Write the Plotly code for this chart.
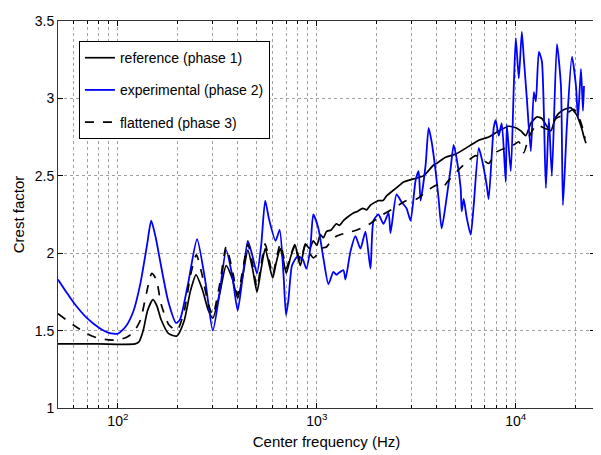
import plotly.graph_objects as go

# ---------------- data ----------------
ref_freq = [50, 80, 122, 128, 134, 141, 150, 157, 165, 180, 198, 215, 232, 247, 265, 285, 300,
            325, 350, 375, 400, 425, 450, 475, 500, 525, 550, 575, 600, 625, 655, 680, 702,
            740, 779, 800, 826, 850, 875, 920, 960, 1000, 1041, 1080, 1117, 1180, 1254, 1300, 1360,
            1450, 1527, 1600, 1700, 1780, 1860, 2040, 2150, 2240, 2500, 2729, 3063, 3440, 3862, 4000, 4437,
            4986, 5798, 6511, 7305, 8207, 9220, 10000, 10595, 11230, 11900, 12760, 13520,
            14320, 15000, 15900, 17050, 18800, 20060, 20760, 21500, 22010, 22520]
ref_val = [1.414, 1.414, 1.414, 1.43, 1.50, 1.63, 1.70, 1.66, 1.57, 1.48, 1.465, 1.56, 1.76, 1.86,
           1.77, 1.63, 1.58, 1.74, 1.92, 1.84, 1.71, 1.86, 2.02, 1.90, 1.75, 1.90, 2.03, 1.93,
           1.84, 1.94, 2.03, 1.95, 1.87, 1.98, 2.05, 1.98, 1.92, 1.99, 2.06, 2.03, 2.08, 2.05,
           2.12, 2.10, 2.14, 2.15, 2.19, 2.18, 2.21, 2.24, 2.26, 2.27, 2.29, 2.28, 2.31, 2.34, 2.34, 2.37, 2.42,
           2.46, 2.48, 2.50, 2.57, 2.58, 2.62, 2.64, 2.69, 2.73, 2.75, 2.79, 2.82, 2.81, 2.79,
           2.76, 2.84, 2.88, 2.87, 2.82, 2.79, 2.88, 2.92, 2.94, 2.90, 2.86, 2.80, 2.75, 2.71]

exp_freq = [50, 55, 60, 70, 80, 90, 100, 110, 120, 130, 140, 147, 155, 163, 179, 196, 205, 225,
            250, 275, 300, 325, 350, 375, 400, 425, 450, 475, 500, 525, 550, 575, 620, 650, 680,
            700, 720, 750, 800, 850, 885, 927, 960, 1018, 1078, 1143, 1211, 1254, 1283, 1360,
            1392, 1475, 1563, 1656, 1755, 1860, 1926, 2040, 2163, 2293, 2346, 2515, 2666, 2824,
            2958, 3135, 3246, 3322, 3521, 3646, 3775, 3953, 4093, 4238, 4437, 4705, 4872, 5044,
            5284, 5345, 5470, 5665, 5933, 6143, 6511, 6742, 7139, 7305, 7742, 7925, 8207, 8496,
            8904, 9010, 9436, 9770, 10000, 10353, 10720, 10970, 11360, 11900, 12320, 12610,
            13060, 13520, 14160, 14660, 15180, 16090, 16860, 17250, 18070, 19150, 20060, 20530,
            21250, 21760, 22010]
exp_val = [1.83, 1.75, 1.68, 1.58, 1.52, 1.485, 1.48, 1.53, 1.63, 1.81, 2.05, 2.21, 2.10, 1.95,
           1.69, 1.55, 1.57, 1.80, 2.09, 1.82, 1.50, 1.75, 2.02, 1.86, 1.63, 1.86, 2.08, 1.98,
           1.87, 2.05, 2.34, 2.22, 2.08, 2.15, 1.86, 1.60, 1.70, 1.92, 1.98, 1.96, 1.90, 2.03,
           2.25, 2.16, 1.97, 1.80, 1.88, 1.86, 1.87, 1.89, 1.83, 2.01, 2.11, 2.03, 2.14, 1.90,
           2.21, 2.25, 2.19, 2.26, 2.13, 2.38, 2.33, 2.29, 2.21, 2.47, 2.53, 2.34, 2.57, 2.81,
           2.72, 2.53, 2.35, 2.16, 2.31, 2.55, 2.70, 2.61, 2.42, 2.27, 2.35, 2.23, 2.12, 2.31,
           2.68, 2.61, 2.44, 2.35, 2.81, 2.86, 2.76, 2.84, 2.46, 2.83, 2.53, 3.08, 3.39, 3.13,
           3.43, 3.26, 3.00, 2.66, 3.04, 2.98, 3.30, 3.24, 2.42, 2.87, 2.50, 3.35, 3.08, 2.31,
           2.83, 3.27, 3.08, 2.87, 3.19, 2.92, 3.08]

flat_freq = [50, 55, 60, 70, 80, 90, 100, 110, 120, 130, 138, 148, 156, 165, 180, 198, 215, 232,
             248, 265, 285, 300, 325, 350, 375, 400, 425, 450, 475, 500, 525, 550, 575, 600, 625,
             655, 680, 702, 740, 779, 800, 826, 875, 920, 960, 1000, 1041, 1117, 1180, 1254, 1392,
             1500, 1656, 1850, 2089, 2429, 2824, 3171, 3646, 3999, 4238, 4597, 5162, 5798, 6288,
             6742, 7305, 7925, 8900, 9770, 10353, 10970, 11630, 12760, 13800, 14660, 15900,
             17860, 19600, 20760, 21760, 22270]
flat_val = [1.61, 1.57, 1.535, 1.48, 1.45, 1.44, 1.44, 1.455, 1.49, 1.57, 1.72, 1.87, 1.83, 1.67,
            1.54, 1.50, 1.62, 1.86, 1.99, 1.86, 1.67, 1.60, 1.80, 2.04, 1.90, 1.73, 1.90, 2.06,
            1.93, 1.78, 1.93, 2.06, 1.96, 1.86, 1.96, 2.06, 1.98, 1.90, 1.99, 2.06, 2.00, 1.95,
            2.05, 2.00, 1.97, 1.99, 2.03, 2.04, 2.08, 2.11, 2.13, 2.14, 2.16, 2.19, 2.24, 2.29,
            2.34, 2.35, 2.41, 2.44, 2.42, 2.47, 2.54, 2.60, 2.63, 2.61, 2.58, 2.65, 2.68, 2.70,
            2.72, 2.65, 2.75, 2.83, 2.81, 2.80, 2.87, 2.90, 2.93, 2.88, 2.80, 2.74]

names = ["reference (phase 1)", "experimental (phase 2)", "flattened (phase 3)"]

x_tickvals = [100, 1000, 10000]
x_ticktext = ["10<sup>2</sup>", "10<sup>3</sup>", "10<sup>4</sup>"]
x_minorvals = [60, 70, 80, 90, 200, 300, 400, 500, 600, 700, 800, 900,
               2000, 3000, 4000, 5000, 6000, 7000, 8000, 9000, 20000]
y_tickvals = [1, 1.5, 2, 2.5, 3, 3.5]
y_ticktext = ["1", "1.5", "2", "2.5", "3", "3.5"]

# ---------------- figure ----------------
fig = go.Figure()
fig.add_trace(go.Scatter(x=ref_freq, y=ref_val, mode="lines", name=names[0], legendgroup="a",
                         line=dict(color="black", width=1.7, shape="spline", smoothing=0.6)))
fig.add_trace(go.Scatter(x=exp_freq, y=exp_val, mode="lines", name=names[1], legendgroup="b",
                         line=dict(color="#0000ff", width=1.8, shape="spline", smoothing=0.6)))
fig.add_trace(go.Scatter(x=flat_freq, y=flat_val, mode="lines", name=names[2], legendgroup="c",
                         line=dict(color="black", width=1.7, dash="dash", shape="spline", smoothing=0.6)))

grid = "#a0a0a0"
fig.update_layout(
    width=601, height=455,
    margin=dict(l=50, r=14, t=13, b=55, autoexpand=False),
    paper_bgcolor="white", plot_bgcolor="white",
    font=dict(family="Liberation Sans, Arial, sans-serif", size=14, color="black"),
    showlegend=True,
    legend=dict(x=0.039, y=0.948, xanchor="left", yanchor="top",
                bgcolor="white", bordercolor="black", borderwidth=1,
                font=dict(size=14), tracegroupgap=11, itemwidth=30),
    xaxis=dict(type="log", range=[1.699, 4.398], tickmode="array",
               tickvals=x_tickvals, ticktext=x_ticktext,
               showgrid=True, gridcolor=grid, griddash="dot", gridwidth=1, automargin=False,
               ticks="inside", ticklen=5, tickcolor="black", showline=True, linecolor="#333",
               mirror="ticks", zeroline=False, tickfont=dict(size=14),
               minor=dict(tickmode="array", tickvals=x_minorvals, showgrid=True,
                          gridcolor=grid, griddash="dot", gridwidth=1,
                          ticks="inside", ticklen=3, tickcolor="black"),
               title=dict(text="Center frequency (Hz)", font=dict(size=15), standoff=8)),
    yaxis=dict(range=[1, 3.5], tickvals=y_tickvals, ticktext=y_ticktext, automargin=False,
               showgrid=True, gridcolor=grid, griddash="dot", gridwidth=1,
               ticks="inside", ticklen=5, tickcolor="black", showline=True, linecolor="#333",
               mirror="ticks", zeroline=False, tickfont=dict(size=14),
               title=dict(text="Crest factor", font=dict(size=15), standoff=6)),
)

fig.write_html("out.html")
